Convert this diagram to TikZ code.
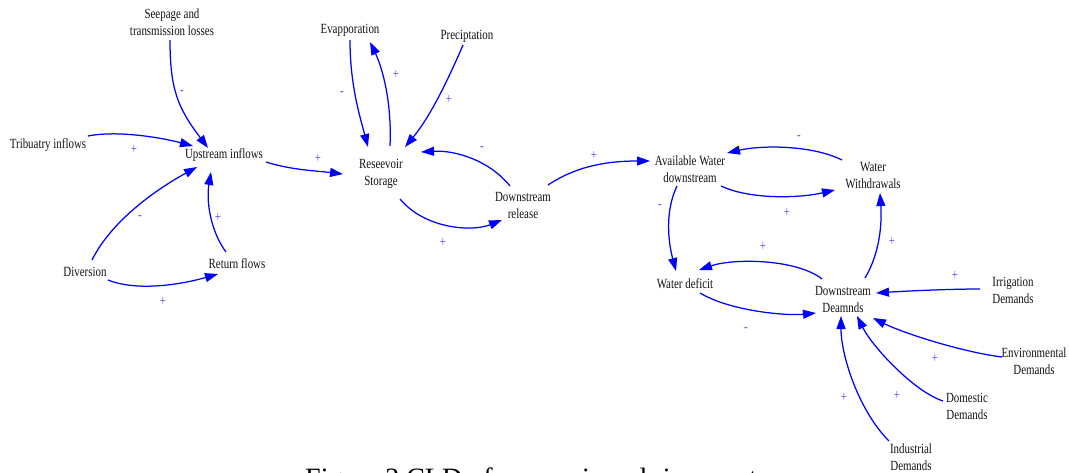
\documentclass[tikz,border=0pt]{standalone}
\usepackage{fontspec}
\setmainfont{Liberation Serif}[FakeStretch=0.78]
\newfontfamily\capfont{Liberation Serif}
\usetikzlibrary{arrows.meta}
\definecolor{cldblue}{RGB}{0,0,255}
\definecolor{lblblue}{RGB}{70,70,255}
\definecolor{txt}{RGB}{20,20,20}
\tikzset{
  var/.style={inner sep=1pt, align=center, text=txt, font=\fontsize{14}{17}\selectfont},
  arr/.style={draw=cldblue, line width=1.25pt, -{Triangle[length=13pt,width=9pt]}},
  pol/.style={text=lblblue, inner sep=0pt, font=\fontsize{14}{14}\selectfont},
}
\begin{document}
\begin{tikzpicture}[x=1pt,y=-1pt]
\useasboundingbox[fill=white] (0,0) rectangle (1069,472);
% variables
\node[var] (seep) at (172,22) {Seepage and\\transmission losses};
\node[var] (trib) at (48,145) {Tribuatry inflows};
\node[var] (ups) at (224,155) {Upstream inflows};
\node[var] (div) at (85,272) {Diversion};
\node[var] (ret) at (237,264) {Return flows};
\node[var] (evap) at (350,30) {Evapporation};
\node[var] (prec) at (467,36) {Preciptation};
\node[var] (res) at (381,174) {Reseevoir\\Storage};
\node[var] (dr) at (523,205) {Downstream\\release};
\node[var] (avail) at (690,169) {Available Water\\downstream};
\node[var] (ww) at (873,176) {Water\\Withdrawals};
\node[var] (wd) at (685,284) {Water deficit};
\node[var] (dd) at (843,299) {Downstream\\Deamnds};
\node[var] (irr) at (1013,290) {Irrigation\\Demands};
\node[var] (env) at (1034,361) {Environmental\\Demands};
\node[var] (dom) at (967,406) {Domestic\\Demands};
\node[var] (ind) at (911,457) {Industrial\\Demands};
% connectors
\draw[arr] ([shift={(-2,18)}]seep.center) .. controls +(0,50) and +(-30,-40) .. ([shift={(-16,-7)}]ups.center);
\draw[arr] ([shift={(40,-9)}]trib.center) .. controls +(30,-6) and +(-30,-8) .. ([shift={(-31,-9)}]ups.center);
\draw[arr] ([shift={(7,-12)}]div.center) .. controls +(20,-40) and +(-40,22) .. ([shift={(-27,12)}]ups.center);
\draw[arr] ([shift={(-11,-12)}]ret.center) .. controls +(-15,-20) and +(-5,30) .. ([shift={(-13,17)}]ups.center);
\draw[arr] ([shift={(23,8)}]div.center) .. controls +(30,12) and +(-35,10) .. ([shift={(-19,10)}]ret.center);
\draw[arr] ([shift={(42,7)}]ups.center) .. controls +(25,8) and +(-25,-3) .. ([shift={(-38,0)}]res.center);
\draw[arr] ([shift={(0,10)}]evap.center) .. controls +(0,45) and +(-8,-30) .. ([shift={(-13,-27)}]res.center);
\draw[arr] ([shift={(9,-28)}]res.center) .. controls +(2,-45) and +(12,25) .. ([shift={(20,12)}]evap.center);
\draw[arr] ([shift={(-4,9)}]prec.center) .. controls +(-15,35) and +(25,-30) .. ([shift={(24,-27)}]res.center);
\draw[arr] ([shift={(-13,-19)}]dr.center) .. controls +(-20,-25) and +(35,-2) .. ([shift={(40,-22)}]res.center);
\draw[arr] ([shift={(19,25)}]res.center) .. controls +(25,30) and +(-30,12) .. ([shift={(-21,15)}]dr.center);
\draw[arr] ([shift={(25,-20)}]dr.center) .. controls +(30,-20) and +(-40,0) .. ([shift={(-40,-8)}]avail.center);
\draw[arr] ([shift={(-31,-16)}]ww.center) .. controls +(-30,-15) and +(35,-8) .. ([shift={(37,-16)}]avail.center);
\draw[arr] ([shift={(31,17)}]avail.center) .. controls +(30,14) and +(-35,8) .. ([shift={(-38,14)}]ww.center);
\draw[arr] ([shift={(-13,17)}]avail.center) .. controls +(-12,25) and +(-8,-30) .. ([shift={(-9,-13)}]wd.center);
\draw[arr] ([shift={(-21,-20)}]dd.center) .. controls +(-25,-20) and +(35,-12) .. ([shift={(14,-14)}]wd.center);
\draw[arr] ([shift={(15,9)}]wd.center) .. controls +(30,18) and +(-30,3) .. ([shift={(-27,14)}]dd.center);
\draw[arr] ([shift={(22,-21)}]dd.center) .. controls +(15,-25) and +(2,30) .. ([shift={(7,17)}]ww.center);
\draw[arr] ([shift={(-33,-1)}]irr.center) .. controls +(-30,0) and +(30,-2) .. ([shift={(33,-6)}]dd.center);
\draw[arr] ([shift={(-32,-4)}]env.center) .. controls +(-40,-5) and +(30,15) .. ([shift={(30,19)}]dd.center);
\draw[arr] ([shift={(-24,-5)}]dom.center) .. controls +(-30,-10) and +(15,30) .. ([shift={(14,17)}]dd.center);
\draw[arr] ([shift={(-22,-16)}]ind.center) .. controls +(-30,-30) and +(0,40) .. ([shift={(-2,17)}]dd.center);
% polarities
\node[pol] (p1) at (182,93) {-};
\node[pol] (p2) at (134,150) {+};
\node[pol] (p3) at (140,218) {-};
\node[pol] (p4) at (218,218) {+};
\node[pol] (p5) at (163,302) {+};
\node[pol] (p6) at (318,159) {+};
\node[pol] (p7) at (342,94) {-};
\node[pol] (p8) at (396,75) {+};
\node[pol] (p9) at (449,100) {+};
\node[pol] (p10) at (482,149) {-};
\node[pol] (p11) at (443,243) {+};
\node[pol] (p12) at (594,156) {+};
\node[pol] (p13) at (799,138) {-};
\node[pol] (p14) at (787,213) {+};
\node[pol] (p15) at (660,207) {-};
\node[pol] (p16) at (763,247) {+};
\node[pol] (p17) at (746,330) {-};
\node[pol] (p18) at (892,242) {+};
\node[pol] (p19) at (955,276) {+};
\node[pol] (p20) at (935,359) {+};
\node[pol] (p21) at (897,396) {+};
\node[pol] (p22) at (844,398) {+};
% clipped caption
\begin{scope}
\clip (0,0) rectangle (1069,472);
\node[anchor=base west, inner sep=0pt, text=black, font=\capfont\fontsize{28}{28}\selectfont] (cap) at (305,487) {Figure 2 CLD of reservoir and river system};
\end{scope}
\end{tikzpicture}
\end{document}
